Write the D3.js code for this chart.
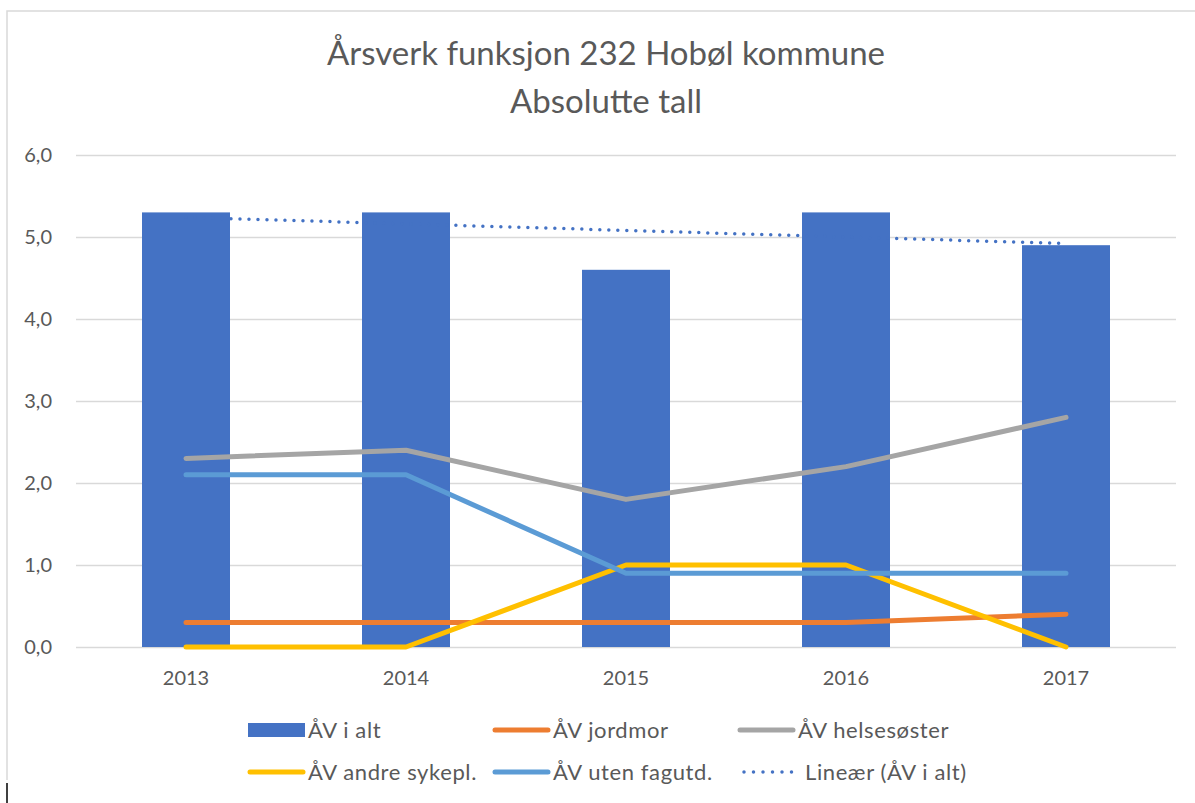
<!DOCTYPE html>
<html>
<head>
<meta charset="utf-8">
<script src="https://cdn.jsdelivr.net/npm/d3@7"></script>
<style>
  body { margin: 0; background: #fff; }
  text { font-family: Lato, "Open Sans", sans-serif; fill: #595959; }
</style>
</head>
<body>
<div id="chart"></div>
<script>
// Data
var years      = ['2013', '2014', '2015', '2016', '2017']
var avIAlt     = [5.3, 5.3, 4.6, 5.3, 4.9]
var jordmor    = [0.3, 0.3, 0.3, 0.3, 0.4]
var helsesoster= [2.3, 2.4, 1.8, 2.2, 2.8]
var andreSyk   = [0.0, 0.0, 1.0, 1.0, 0.0]
var utenFag    = [2.1, 2.1, 0.9, 0.9, 0.9]
var yTicks     = [0, 1, 2, 3, 4, 5, 6]

var lineSeries = [
  { name: 'ÅV jordmor',       values: jordmor,     color: '#ED7D31' },
  { name: 'ÅV helsesøster',   values: helsesoster, color: '#A5A5A5' },
  { name: 'ÅV andre sykepl.', values: andreSyk,    color: '#FFC000' },
  { name: 'ÅV uten fagutd.',  values: utenFag,     color: '#5B9BD5' }
]

// Size
var W = 1195, H = 803
var plot = { left: 76, right: 1176, top: 155, bottom: 647 }

var svg = d3.select('#chart').append('svg')
    .attr('width', W)
    .attr('height', H)

// frame
svg.append('path')
    .attr('d', 'M7,780 V11 H1195')
    .attr('fill', 'none')
    .attr('stroke', '#d9d9d9')
    .attr('stroke-width', 1.5)
svg.append('line')
    .attr('x1', 7).attr('x2', 7).attr('y1', 783).attr('y2', 803)
    .attr('stroke', '#000').attr('stroke-width', 1.5)

// Title
svg.append('text').attr('x', 606).attr('y', 65)
    .attr('text-anchor', 'middle').style('font-size', '33px')
    .text('Årsverk funksjon 232 Hobøl kommune')
svg.append('text').attr('x', 606).attr('y', 113)
    .attr('text-anchor', 'middle').style('font-size', '33px')
    .text('Absolutte tall')

// Scales
var x = d3.scaleBand().domain(years).range([plot.left, plot.right])
    .paddingInner(0.6).paddingOuter(0.3)
var y = d3.scaleLinear().domain([0, 6]).range([plot.bottom, plot.top])
var cx = d => x(d) + x.bandwidth() / 2

// Grid
var yAxis = d3.axisLeft(y).tickValues(yTicks)
    .tickSize(-(plot.right - plot.left))
    .tickFormat(d => d3.format('.1f')(d).replace('.', ','))
var gy = svg.append('g').attr('transform', `translate(${plot.left},0)`).call(yAxis)
gy.select('.domain').remove()
gy.selectAll('line').attr('stroke', '#d9d9d9').attr('stroke-width', 1.3)
gy.selectAll('text').attr('x', -24).style('font-size', '20px').attr('fill', '#595959')

// X labels
svg.append('g').selectAll('text').data(years).enter()
    .append('text')
    .attr('x', d => cx(d))
    .attr('y', 685)
    .attr('text-anchor', 'middle')
    .style('font-size', '20px')
    .text(d => d)

// Bars
svg.append('g').selectAll('rect').data(years).enter()
    .append('rect')
    .attr('x', d => x(d))
    .attr('width', x.bandwidth())
    .attr('y', (d, i) => y(avIAlt[i]))
    .attr('height', (d, i) => y(0) - y(avIAlt[i]))
    .attr('fill', '#4472C4')

// Lines
var line = d3.line().x((d, i) => cx(years[i])).y(d => y(d))
svg.append('g').selectAll('path').data(lineSeries).enter()
    .append('path')
    .attr('d', d => line(d.values))
    .attr('fill', 'none')
    .attr('stroke', d => d.color)
    .attr('stroke-width', 5)
    .attr('stroke-linecap', 'round')
    .attr('stroke-linejoin', 'round')

// Linear trend of ÅV i alt
var idx = years.map((d, i) => i + 1)
var mx = d3.mean(idx), my = d3.mean(avIAlt)
var slope = d3.sum(idx, (v, i) => (v - mx) * (avIAlt[i] - my)) / d3.sum(idx, v => (v - mx) * (v - mx))
var trend = idx.map(v => my + slope * (v - mx))
svg.append('path')
    .attr('d', line(trend))
    .attr('fill', 'none')
    .attr('stroke', '#4472C4')
    .attr('stroke-width', 3.5)
    .attr('stroke-linecap', 'round')
    .attr('stroke-dasharray', '0,9')

// Legend
var legend = [
  { name: 'ÅV i alt',          type: 'rect',   color: '#4472C4' },
  { name: 'ÅV jordmor',        type: 'line',   color: '#ED7D31' },
  { name: 'ÅV helsesøster',    type: 'line',   color: '#A5A5A5' },
  { name: 'ÅV andre sykepl.',  type: 'line',   color: '#FFC000' },
  { name: 'ÅV uten fagutd.',   type: 'line',   color: '#5B9BD5' },
  { name: 'Lineær (ÅV i alt)', type: 'dotted', color: '#4472C4' }
]
var lg = svg.append('g').selectAll('g').data(legend).enter()
    .append('g')
    .attr('transform', (d, i) => `translate(${248 + (i % 3) * 245},${730 + Math.floor(i / 3) * 42})`)
lg.each(function(d) {
  var g = d3.select(this)
  if (d.type == 'rect') {
    g.append('rect').attr('x', 0).attr('y', -7).attr('width', 57).attr('height', 14).attr('fill', d.color)
  } else if (d.type == 'line') {
    g.append('line').attr('x1', 2).attr('x2', 55).attr('y1', 0).attr('y2', 0)
        .attr('stroke', d.color).attr('stroke-width', 5).attr('stroke-linecap', 'round')
  } else {
    g.append('line').attr('x1', 6).attr('x2', 55).attr('y1', 0).attr('y2', 0)
        .attr('stroke', d.color).attr('stroke-width', 3.5).attr('stroke-linecap', 'round')
        .attr('stroke-dasharray', '0,9.5')
  }
  g.append('text')
    .attr('x', d.type == 'dotted' ? 67 : 60)
    .attr('y', 8)
    .style('font-size', '22px')
    .style('letter-spacing', '0.6px')
    .text(d.name)
})
</script>
</body>
</html>
